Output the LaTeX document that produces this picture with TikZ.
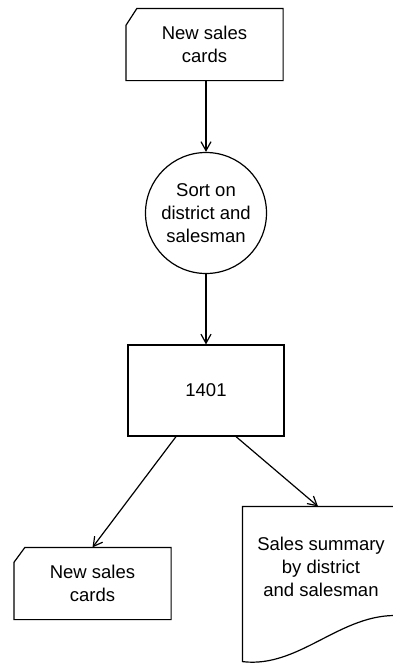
\documentclass[tikz,border=0pt]{standalone}
\usepackage{fontspec}
\setmainfont{Liberation Sans}
\usetikzlibrary{arrows.meta}
\begin{document}
\begin{tikzpicture}[x=1pt,y=-1pt,line width=1.2pt,
  box/.style={minimum width=156pt,minimum height=71pt,inner sep=0pt,align=center,font=\fontsize{18.5}{23}\selectfont},
  flow/.style={-{Straight Barb[length=9pt,width=10pt]}}]
\useasboundingbox (0,0) rectangle (393,664);
% input cards
\node[box] (cardsin) at (204.5,44.5) {New sales\\cards};
\draw ([yshift=-17pt]cardsin.north west) -- ([xshift=11pt]cardsin.north west) -- (cardsin.north east) -- (cardsin.south east) -- (cardsin.south west) -- cycle;
\node[box,draw,circle,minimum size=121pt] (sort) at (206,213) {Sort on\\district and\\salesman};
\node[box,draw,minimum height=91pt] (cpu) at (206,390.5) {1401};
% outputs
\node[box] (cardsout) at (92.5,583.5) {New sales\\cards};
\draw ([yshift=-15pt]cardsout.north west) -- ([xshift=11pt]cardsout.north west) -- (cardsout.north east) -- (cardsout.south east) -- (cardsout.south west) -- cycle;
\node[box,minimum height=154pt] (summary) at (321,584) {};
\node[box,minimum height=0pt] (summarytext) at (321,567) {Sales summary\\by district\\and salesman};
\draw ([yshift=46pt]summary.south east) -- (summary.north east) -- (summary.north west) -- (summary.south west)
  .. controls ([xshift=57pt,yshift=-7pt]summary.south west) and ([xshift=-59pt,yshift=49pt]summary.south east) .. ([yshift=46pt]summary.south east);
\draw[flow] (sort.north |- cardsin.south) -- (sort.north);
\draw[flow] (sort.south) -- (cpu.north);
\draw[flow] ([xshift=-30pt]cpu.south) -- (cardsout.north);
\draw[flow] ([xshift=30pt]cpu.south) -- ([xshift=-3pt]summary.north);
\end{tikzpicture}
\end{document}
